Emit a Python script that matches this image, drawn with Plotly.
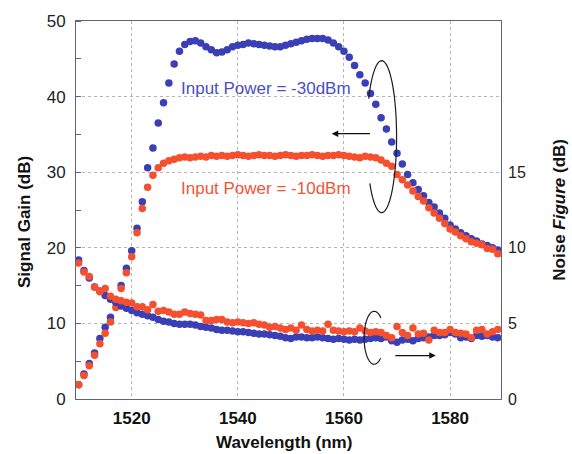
import numpy as np
import plotly.graph_objects as go

wavelength = list(range(1510, 1590))

gain_m30 = [1.9, 3.3, 4.7, 6.1, 8.0, 9.5, 10.8, 12.9, 15.0, 17.3,
            19.6, 22.6, 26.1, 30.6, 33.2, 36.5, 39.2, 41.8, 44.3, 46.0,
            46.9, 47.3, 47.4, 47.1, 46.6, 46.2, 45.8, 45.9, 46.2, 46.6,
            46.8, 46.9, 47.1, 47.0, 46.9, 46.8, 46.7, 46.6, 46.6, 46.8,
            47.0, 47.2, 47.4, 47.6, 47.7, 47.7, 47.7, 47.5, 47.1, 46.6,
            46.0, 45.2, 44.1, 42.9, 41.8, 40.4, 39.0, 37.2, 35.7, 34.0,
            32.5, 31.1, 29.7, 28.6, 27.7, 26.9, 26.0, 25.4, 24.6, 23.9,
            23.0, 22.5, 22.0, 21.6, 21.2, 20.9, 20.5, 20.3, 20.0, 19.7]

gain_m10 = [1.9, 3.1, 4.4, 5.8, 7.3, 8.7, 10.2, 12.1, 14.6, 16.7,
            18.8, 22.0, 25.2, 28.0, 29.6, 30.6, 31.2, 31.5, 31.7, 31.9,
            32.0, 31.9, 32.0, 32.1, 32.0, 32.2, 32.1, 32.2, 32.1, 32.2,
            32.3, 32.2, 32.1, 32.2, 32.3, 32.2, 32.2, 32.1, 32.2, 32.3,
            32.2, 32.1, 32.2, 32.2, 32.3, 32.2, 32.1, 32.2, 32.2, 32.3,
            32.2, 32.1, 32.0, 31.9, 32.1, 32.0, 31.9, 31.6, 31.2, 30.8,
            29.7, 29.0, 28.3, 27.5, 26.8, 26.2, 25.3, 24.6, 23.9, 23.2,
            22.5, 22.1, 21.6, 21.2, 20.8, 20.6, 20.4, 19.9, 19.8, 19.2]

nf_m30 = [9.2, 8.5, 8.0, 7.4, 7.15, 6.85, 6.6, 6.4, 6.15, 6.0,
          5.85, 5.7, 5.6, 5.5, 5.4, 5.25, 5.15, 5.1, 5.0, 4.95,
          4.95, 4.95, 4.9, 4.8, 4.75, 4.7, 4.6, 4.55, 4.55, 4.5,
          4.45, 4.45, 4.4, 4.35, 4.3, 4.3, 4.25, 4.2, 4.15, 4.05,
          4.0, 4.1, 4.1, 4.05, 4.05, 4.1, 4.05, 4.0, 3.95, 4.0,
          3.95, 3.9, 3.95, 3.9, 3.95, 4.0, 4.05, 4.0, 4.1, 3.85,
          3.75, 3.9, 3.95, 3.85, 4.0, 4.05, 4.1, 4.2, 4.2, 4.25,
          4.4, 4.3, 4.05, 4.1, 4.0, 4.2, 4.15, 4.2, 4.1, 4.05]

nf_m10 = [9.0, 8.4, 8.1, 7.4, 7.1, 7.3, 6.8, 6.6, 6.5, 6.4,
          6.35, 6.1, 6.1, 5.9, 6.25, 5.8, 5.85, 5.75, 5.6, 5.6,
          5.75, 5.65, 5.6, 5.55, 5.2, 5.2, 5.25, 5.25, 5.1, 5.05,
          5.1, 5.05, 5.0, 5.05, 4.95, 4.9, 4.75, 4.8, 4.7, 4.6,
          4.7, 4.55, 4.9, 4.6, 4.5, 4.55, 4.5, 4.95, 4.55, 4.5,
          4.45, 4.5, 4.45, 4.7, 4.5, 4.4, 4.45, 4.4, 4.2, 4.05,
          4.8, 4.4, 4.2, 4.7, 4.3, 4.35, 3.9, 4.55, 4.4, 4.4,
          4.6, 4.4, 4.35, 4.3, 4.05, 4.55, 4.6, 4.3, 4.45, 4.6]

x_ticks = [1520, 1540, 1560, 1580]
gain_ticks = [0, 10, 20, 30, 40, 50]
nf_ticks = [0, 5, 10, 15]

BLUE = "#3a3fb6"
RED = "#f4502f"
FONT = "Liberation Sans, Arial, sans-serif"
AXIS = "#5c6185"

fig = go.Figure()
mk = dict(size=7.5)
fig.add_trace(go.Scatter(x=wavelength, y=gain_m30, mode="markers",
                         marker=dict(color=BLUE, **mk), yaxis="y"))
fig.add_trace(go.Scatter(x=wavelength, y=gain_m10, mode="markers",
                         marker=dict(color=RED, **mk), yaxis="y"))
fig.add_trace(go.Scatter(x=wavelength, y=nf_m30, mode="markers",
                         marker=dict(color=BLUE, **mk), yaxis="y2"))
fig.add_trace(go.Scatter(x=wavelength, y=nf_m10, mode="markers",
                         marker=dict(color=RED, **mk), yaxis="y2"))


def ellipse_path(cx, cy, a, b, t0, t1, n=60):
    t = np.radians(np.linspace(t0, t1, n))
    xs = cx + a * np.cos(t)
    ys = cy + b * np.sin(t)
    return "M " + " L ".join(f"{x:.3f},{y:.3f}" for x, y in zip(xs, ys))


shapes = [
    dict(type="path", xref="x", yref="y",
         path=ellipse_path(1567.1, 34.7, 2.82, 10.05, 218, 510),
         line=dict(color="#1a1a2a", width=1.2)),
    dict(type="path", xref="x", yref="y",
         path=ellipse_path(1565.7, 8.1, 1.9, 3.5, 48, 309),
         line=dict(color="#1a1a2a", width=1.2)),
]

annotations = [
    dict(x=1545.3, y=41.1, xref="x", yref="y", text="Input Power = -30dBm",
         xanchor="center", yanchor="middle",
         showarrow=False, font=dict(family=FONT, size=17, color="#4a4fc2")),
    dict(x=1545.3, y=27.9, xref="x", yref="y", text="Input Power = -10dBm",
         xanchor="center", yanchor="middle",
         showarrow=False, font=dict(family=FONT, size=17, color="#f0553a")),
    dict(x=1557.7, y=35.1, ax=1565.2, ay=35.1, xref="x", yref="y",
         axref="x", ayref="y", text="", showarrow=True, arrowhead=2,
         arrowsize=1, arrowwidth=1.3, arrowcolor="#111"),
    dict(x=1577.3, y=5.74, ax=1569.4, ay=5.74, xref="x", yref="y",
         axref="x", ayref="y", text="", showarrow=True, arrowhead=2,
         arrowsize=1, arrowwidth=1.3, arrowcolor="#111"),
    dict(x=-0.121, y=0.467, xref="paper", yref="paper", text="<b>Signal Gain (dB)</b>",
         xanchor="center", yanchor="middle",
         textangle=-90, showarrow=False, font=dict(family=FONT, size=17, color="#111")),
    dict(x=1.139, y=0.501, xref="paper", yref="paper",
         text="<b>Noise <i>Figure</i> (dB)</b>",
         xanchor="center", yanchor="middle",
         textangle=-90, showarrow=False, font=dict(family=FONT, size=17, color="#111")),
    dict(x=0.489, y=-0.115, xref="paper", yref="paper", text="<b>Wavelength (nm)</b>",
         xanchor="center", yanchor="middle",
         showarrow=False, font=dict(family=FONT, size=17, color="#111")),
]

fig.update_layout(
    width=572, height=454,
    margin=dict(l=76, r=71, t=16, b=55),
    paper_bgcolor="white", plot_bgcolor="white",
    showlegend=False, hovermode=False,
    font=dict(family=FONT, size=16, color="#222"),
    shapes=shapes, annotations=annotations,
    xaxis=dict(range=[1509.5, 1589.6], tickvals=x_ticks,
               ticktext=[f"<b>{v}</b>" for v in x_ticks],
               showgrid=True, gridcolor="#b5b5b5", griddash="dot", gridwidth=1,
               showline=True, linecolor=AXIS, linewidth=1, mirror=True,
               zeroline=False, ticks="", ticklabelstandoff=4,
               tickfont=dict(family=FONT, size=17, color="#111")),
    yaxis=dict(range=[0, 50], tickvals=gain_ticks,
               showgrid=True, gridcolor="#b5b5b5", griddash="dot", gridwidth=1,
               showline=True, linecolor=AXIS, linewidth=1, mirror=True,
               zeroline=False, ticks="", ticklabelstandoff=6,
               minor=dict(ticks="inside", dtick=5, ticklen=5, tickcolor=AXIS, showgrid=False),
               tickfont=dict(family=FONT, size=17, color="#222")),
    yaxis2=dict(range=[0, 25], tickvals=nf_ticks, overlaying="y", side="right",
                showgrid=False, zeroline=False, showline=False, ticks="",
                ticklabelstandoff=6,
                tickfont=dict(family=FONT, size=16, color="#222")),
)

fig.write_html("out.html", config={"displayModeBar": False},
               post_script="document.body.style.margin='0';")
